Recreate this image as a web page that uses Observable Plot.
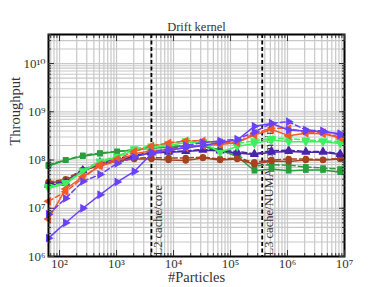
<!DOCTYPE html>
<html>
<head>
<meta charset="utf-8">
<script src="https://cdn.jsdelivr.net/npm/d3@7"></script>
<script src="https://cdn.jsdelivr.net/npm/@observablehq/plot@0.6"></script>
<style>
  html, body { margin: 0; padding: 0; background: #fff; }
  svg { font-family: "Liberation Serif", "DejaVu Serif", serif; }
</style>
</head>
<body>
<div id="chart"></div>
<script>
const particles = [64, 128, 256, 512, 1024, 2048, 4096, 8192, 16384, 32768, 65536, 131072, 262144, 524288, 1048576, 2097152, 4194304, 8388608];

const darkGreenSolid  = [7.5e7, 1.0e8, 1.2e8, 1.35e8, 1.5e8, 1.6e8, 1.75e8, 1.85e8, 1.95e8, 1.9e8, 1.6e8, 1.2e8, 6.0e7, 6.5e7, 6.0e7, 6.2e7, 6.2e7, 5.6e7];
const darkGreenDashed = [8.0e7, 1.0e8, 1.25e8, 1.4e8, 1.5e8, 1.65e8, 1.8e8, 1.9e8, 2.0e8, 1.9e8, 1.65e8, 1.3e8, 7.5e7, 8.0e7, 7.8e7, 7.2e7, 6.8e7, 6.5e7];
const lightGreenSolid = [2.6e7, 3.2e7, 5.8e7, 9.0e7, 1.15e8, 1.6e8, 1.8e8, 2.0e8, 2.3e8, 2.3e8, 1.45e8, 1.9e8, 2.2e8, 2.6e8, 2.4e8, 2.4e8, 2.4e8, 2.2e8];
const lightGreenDashed= [2.8e7, 3.4e7, 6.0e7, 9.5e7, 1.2e8, 1.7e8, 1.95e8, 2.2e8, 2.5e8, 2.4e8, 2.2e8, 2.2e8, 2.5e8, 2.8e8, 2.8e8, 2.6e8, 2.5e8, 2.4e8];
const brownSolid      = [3.3e7, 3.8e7, 6.0e7, 7.8e7, 9.5e7, 1.05e8, 1.05e8, 1.0e8, 9.8e7, 1.1e8, 1.0e8, 1.05e8, 8.2e7, 9.5e7, 9.3e7, 1.0e8, 1.0e8, 1.05e8];
const brownDashed     = [3.5e7, 4.0e7, 6.3e7, 8.0e7, 1.0e8, 1.1e8, 1.12e8, 1.1e8, 1.1e8, 1.15e8, 1.05e8, 1.1e8, 9.0e7, 1.0e8, 1.05e8, 1.05e8, 1.02e8, 1.08e8];
const orangeSolid     = [6.0e6, 2.5e7, 4.5e7, 7.5e7, 9.5e7, 1.35e8, 1.55e8, 1.65e8, 1.8e8, 2.0e8, 2.1e8, 2.3e8, 3.3e8, 4.3e8, 3.2e8, 3.6e8, 3.5e8, 2.9e8];
const orangeDashed    = [1.4e7, 2.2e7, 4.2e7, 8.0e7, 1.05e8, 1.5e8, 1.95e8, 2.25e8, 2.5e8, 2.5e8, 2.3e8, 2.3e8, 3.6e8, 4.6e8, 4.5e8, 3.8e8, 3.7e8, 3.0e8];
const purpleSolid     = [2.4e6, 5.0e6, 1.0e7, 1.9e7, 3.5e7, 5.8e7, 1.35e8, 1.6e8, 1.8e8, 2.0e8, 2.3e8, 2.6e8, 5.0e8, 5.7e8, 4.2e8, 4.0e8, 3.9e8, 3.5e8];
const purpleDashed    = [7.5e6, 1.6e7, 3.6e7, 5.0e7, 8.5e7, 1.15e8, 1.45e8, 1.7e8, 2.0e8, 2.3e8, 2.5e8, 2.7e8, 3.8e8, 5.8e8, 6.2e8, 4.2e8, 4.0e8, 3.3e8];
const indigoSolid     = [3.0e7, 3.3e7, 6.0e7, 8.5e7, 1.0e8, 1.2e8, 1.4e8, 1.45e8, 1.5e8, 1.6e8, 1.55e8, 1.4e8, 1.3e8, 1.45e8, 1.5e8, 1.45e8, 1.45e8, 1.3e8];
const indigoDashed    = [3.2e7, 3.5e7, 6.2e7, 9.0e7, 1.05e8, 1.25e8, 1.45e8, 1.5e8, 1.55e8, 1.65e8, 1.6e8, 1.5e8, 1.35e8, 1.55e8, 1.6e8, 1.5e8, 1.5e8, 1.35e8];

const cacheLines = [4096, 360000];
const cacheLabels = ["L2 cache/core", "L3 cache/NUMA domain"];
const xTicks = [1e2, 1e3, 1e4, 1e5, 1e6, 1e7];
const yTicks = [1e6, 1e7, 1e8, 1e9, 1e10];

const seriesList = [
  {values: darkGreenSolid,  color: "#2a9e3c", dash: null,  symbol: "square",   rotate: 0},
  {values: darkGreenDashed, color: "#2a9e3c", dash: "5,3", symbol: "square",   rotate: 0},
  {values: brownSolid,      color: "#a3441f", dash: null,  symbol: "circle",   rotate: 0},
  {values: brownDashed,     color: "#a3441f", dash: "5,3", symbol: "circle",   rotate: 0},
  {values: indigoSolid,     color: "#4a24a8", dash: null,  symbol: "triangle", rotate: 0},
  {values: indigoDashed,    color: "#4a24a8", dash: "5,3", symbol: "triangle", rotate: 0},
  {values: lightGreenSolid, color: "#3ff05e", dash: null,  symbol: "triangle", rotate: 180},
  {values: lightGreenDashed,color: "#3ff05e", dash: "5,3", symbol: "triangle", rotate: 180},
  {values: orangeSolid,     color: "#f25a2a", dash: null,  symbol: "triangle", rotate: -90},
  {values: orangeDashed,    color: "#f25a2a", dash: "5,3", symbol: "triangle", rotate: -90},
  {values: purpleSolid,     color: "#6a42f5", dash: null,  symbol: "triangle", rotate: 90},
  {values: purpleDashed,    color: "#6a42f5", dash: "5,3", symbol: "triangle", rotate: 90}
];

const xDomain = [64, 1e7];
const yDomain = [1e6, 4e10];

// minor grid positions (1..9 x 10^k)
const xGrid = [];
for (let k = 1; k <= 7; k++) for (let m = 1; m <= 9; m++) { const v = m * 10 ** k; if (v >= xDomain[0] && v <= xDomain[1]) xGrid.push(v); }
const yGrid = [];
for (let k = 6; k <= 10; k++) for (let m = 1; m <= 9; m++) { const v = m * 10 ** k; if (v >= yDomain[0] && v <= yDomain[1]) yGrid.push(v); }

const sup = "⁰¹²³⁴⁵⁶⁷⁸⁹";
const pow = d => "10" + String(Math.round(Math.log10(d))).split("").map(c => sup[+c]).join("");
const blank = () => "";

const marks = [
  Plot.gridX(xGrid, {stroke: "#c8c8c8", strokeOpacity: 1, strokeWidth: 1.2}),
  Plot.gridY(yGrid, {stroke: "#c8c8c8", strokeOpacity: 1, strokeWidth: 1.2}),
  Plot.ruleX(cacheLines, {stroke: "black", strokeWidth: 1.8, strokeDasharray: "4,2.5"}),
  Plot.text(cacheLabels, {x: cacheLines, y: [1.05e6, 1.05e6], rotate: -90, textAnchor: "start", lineAnchor: "middle", dx: 7, fontSize: 12.5, fill: "#333"})
];

for (const s of seriesList) {
  const rows = particles.map((n, i) => ({n, v: s.values[i]}));
  marks.push(Plot.line(rows, {x: "n", y: "v", stroke: s.color, strokeWidth: 1.5, strokeDasharray: s.dash}));
  marks.push(Plot.dot(rows, {x: "n", y: "v", fill: s.color, stroke: "none", symbol: s.symbol, r: s.symbol === "triangle" ? 3.3 : 3.2, rotate: s.rotate}));
}

marks.push(
  Plot.frame({stroke: "black", strokeWidth: 2}),
  Plot.axisX({anchor: "bottom", ticks: xTicks, tickFormat: pow, tickSize: -6, tickPadding: 8, fontSize: 13, label: null}),
  Plot.axisX({anchor: "bottom", ticks: xGrid, tickFormat: blank, tickSize: -3, label: null}),
  Plot.axisX({anchor: "top", ticks: xTicks, tickFormat: blank, tickSize: -6, label: null}),
  Plot.axisX({anchor: "top", ticks: xGrid, tickFormat: blank, tickSize: -3, label: null}),
  Plot.axisY({anchor: "left", ticks: yTicks, tickFormat: pow, tickSize: -6, tickPadding: 9, fontSize: 13, label: null}),
  Plot.axisY({anchor: "left", ticks: yGrid, tickFormat: blank, tickSize: -3, label: null}),
  Plot.axisY({anchor: "right", ticks: yTicks, tickFormat: blank, tickSize: -6, label: null}),
  Plot.axisY({anchor: "right", ticks: yGrid, tickFormat: blank, tickSize: -3, label: null}),
  Plot.text(["Drift kernel"], {frameAnchor: "top", lineAnchor: "middle", dy: -8, fontSize: 12.5, fill: "#333"}),
  Plot.text(["#Particles"], {frameAnchor: "bottom", lineAnchor: "middle", dy: 21, fontSize: 14.5, fill: "#333"}),
  Plot.text(["Throughput"], {frameAnchor: "left", lineAnchor: "middle", dx: -33, rotate: -90, fontSize: 14.5, fill: "#333"})
);

const chart = Plot.plot({
  width: 382,
  height: 287,
  marginLeft: 48,
  marginRight: 38,
  marginTop: 34,
  marginBottom: 31,
  x: {type: "log", domain: xDomain},
  y: {type: "log", domain: yDomain},
  style: {fontFamily: "Liberation Serif, DejaVu Serif, serif", color: "#333", background: "white"},
  marks
});
document.getElementById("chart").appendChild(chart);
</script>
</body>
</html>
